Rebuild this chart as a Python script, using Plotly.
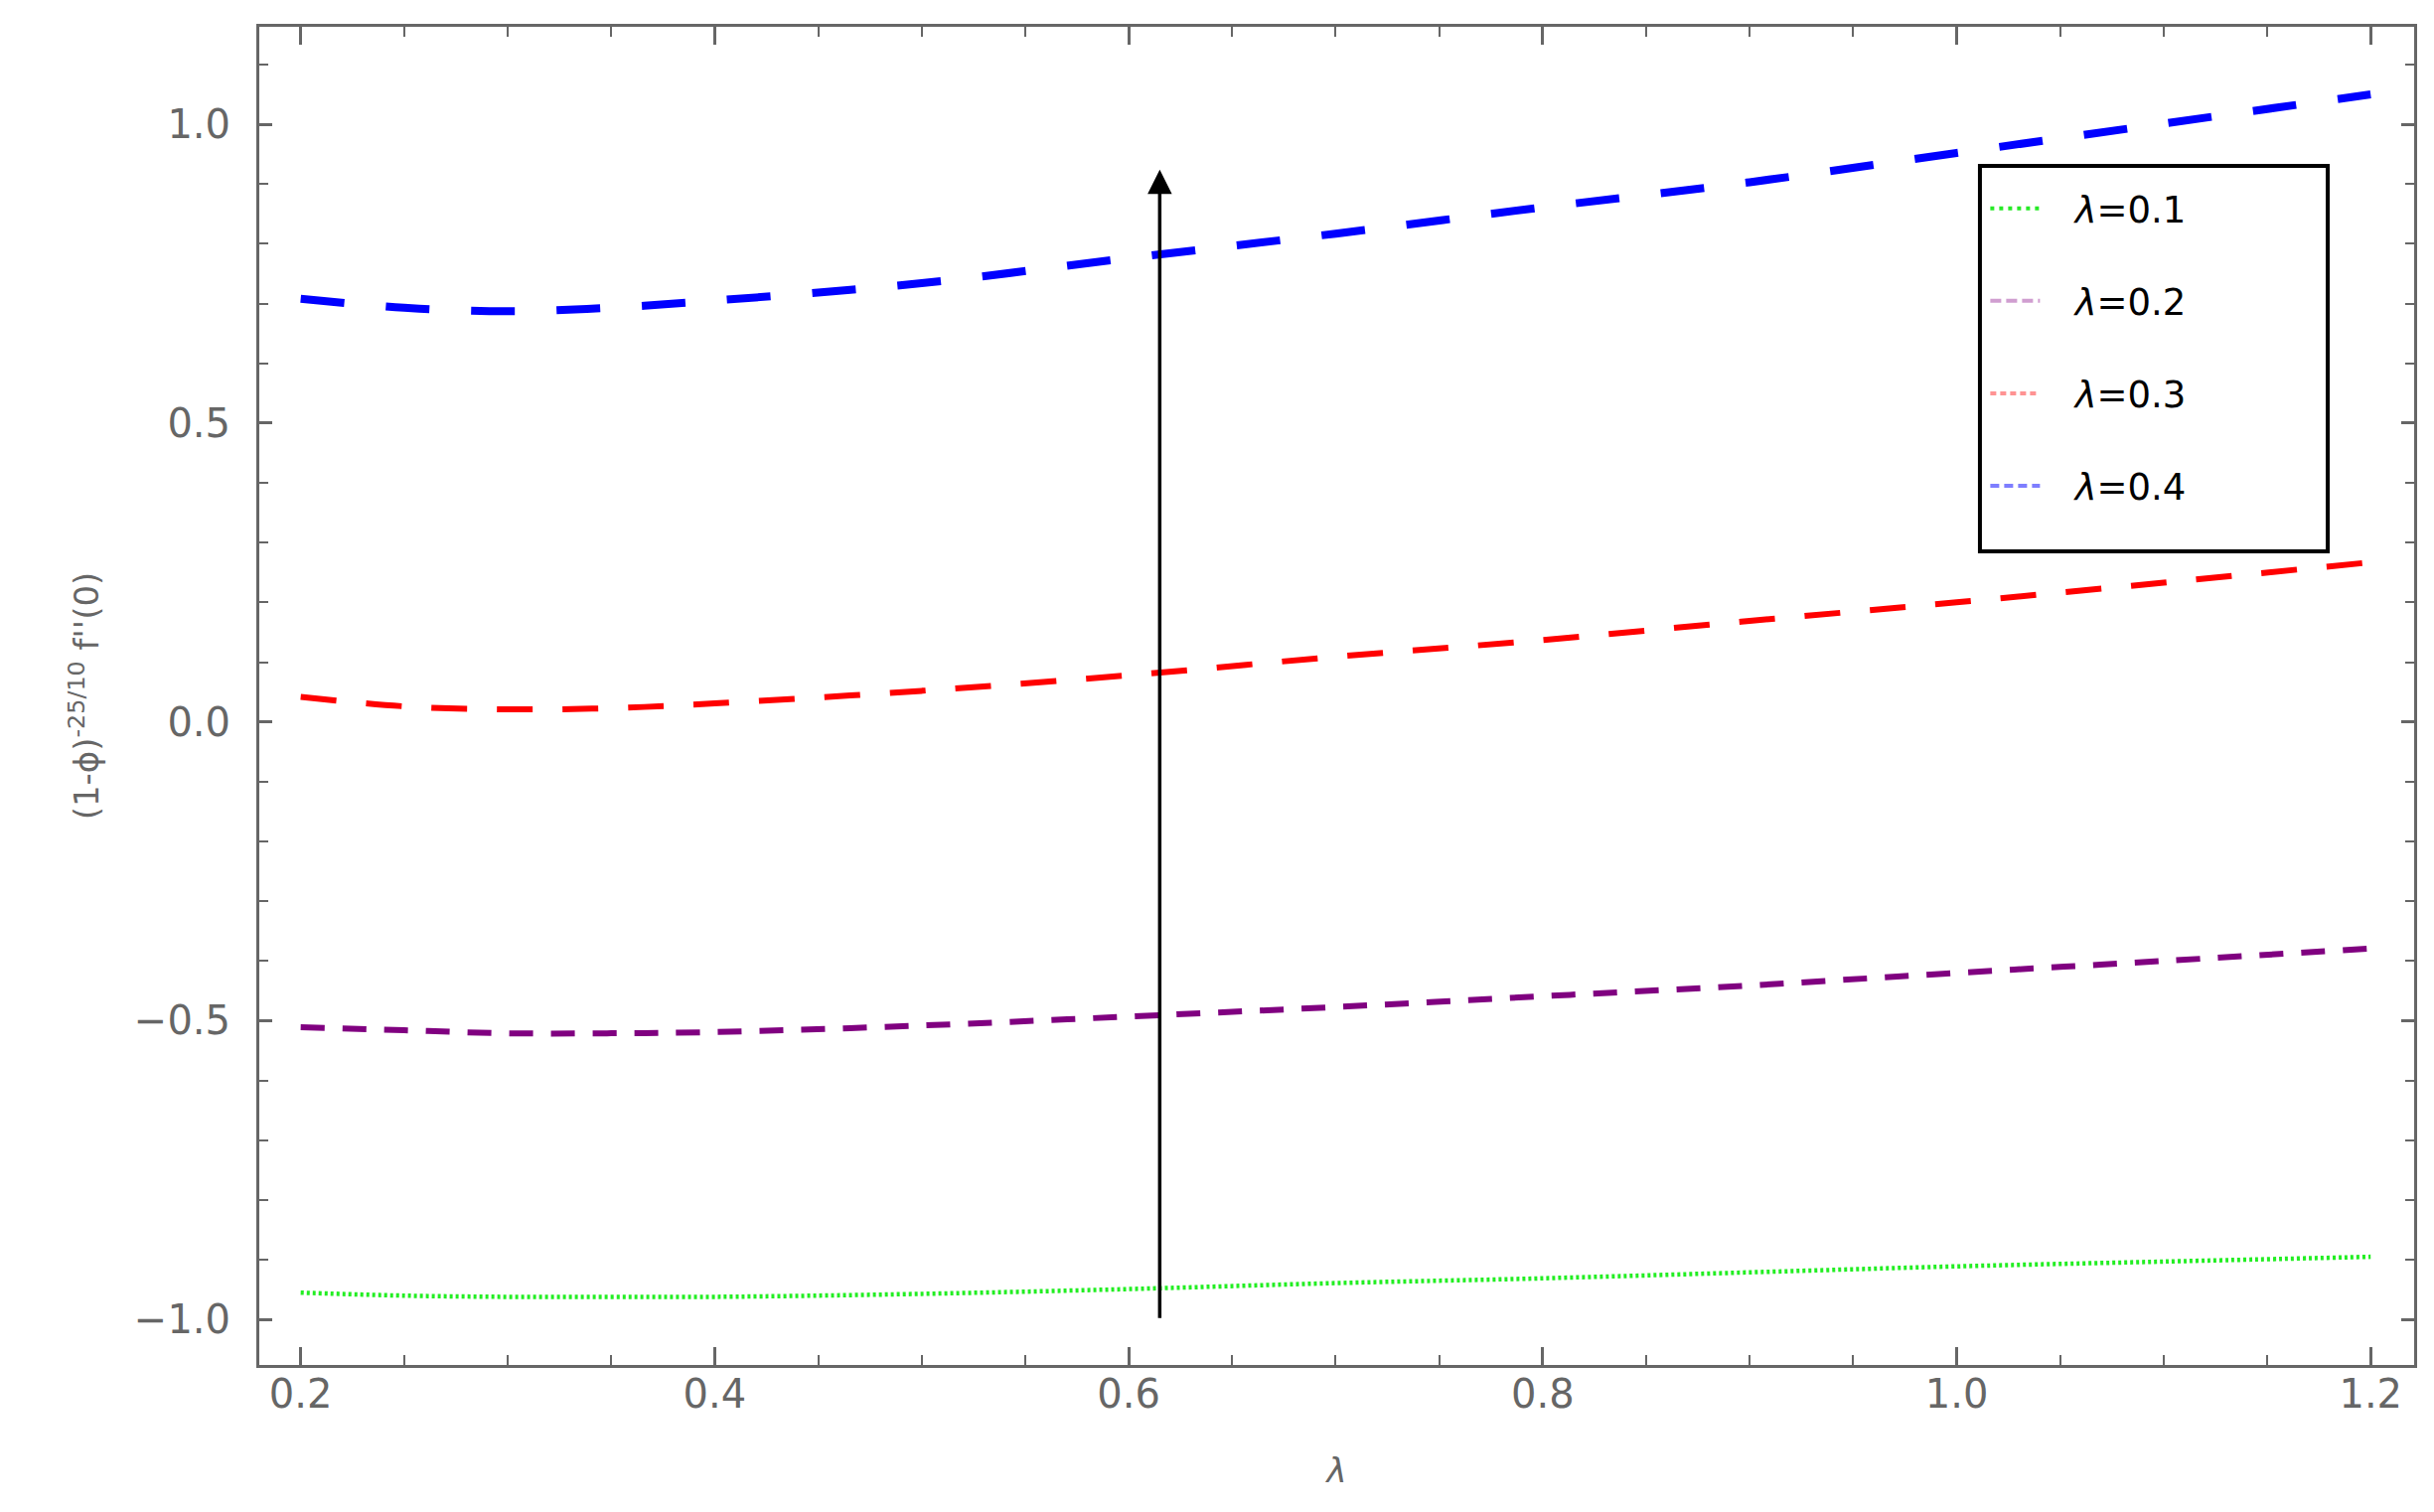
import plotly.graph_objects as go

# values
lam = [0.2, 0.25, 0.3, 0.35, 0.4, 0.5, 0.6, 0.7, 0.8, 0.9, 1.0, 1.1, 1.2]
skin_01 = [-0.955, -0.960, -0.962, -0.962, -0.962, -0.957, -0.949, -0.939, -0.931, -0.921, -0.911, -0.903, -0.895]
skin_02 = [-0.511, -0.516, -0.521, -0.521, -0.519, -0.508, -0.493, -0.477, -0.459, -0.441, -0.420, -0.400, -0.379]
skin_03 = [0.042, 0.026, 0.021, 0.023, 0.031, 0.052, 0.078, 0.109, 0.137, 0.169, 0.200, 0.233, 0.267]
skin_04 = [0.708, 0.693, 0.687, 0.693, 0.705, 0.734, 0.776, 0.817, 0.861, 0.903, 0.952, 1.001, 1.050]

names = ['<i>λ</i>=0.1', '<i>λ</i>=0.2', '<i>λ</i>=0.3', '<i>λ</i>=0.4']
series = [skin_01, skin_02, skin_03, skin_04]
colors = ['#22ee22', '#800080', '#ff0000', '#0000ff']
legend_colors = ['rgba(0,230,0,0.85)', 'rgba(150,40,150,0.45)', 'rgba(255,40,40,0.5)', 'rgba(40,40,255,0.6)']
widths = [4.5, 6, 6, 8]
dashes = ['3px,3px', '24px,18px', '36px,30px', '44px,42px']
legend_dashes = ['4px,5px', '11px,5px', '6px,4px', '9px,5px']

arrow_x = 0.615
arrow_y0, arrow_y1 = -1.0, 0.924

fig = go.Figure()
for i in range(4):
    fig.add_trace(go.Scatter(x=lam, y=series[i], mode='lines', showlegend=False,
                             line=dict(color=colors[i], width=widths[i], dash=dashes[i], shape='spline')))
# thin samples for the legend
for i in range(4):
    fig.add_trace(go.Scatter(x=[None], y=[None], name='\u2002\u00a0' + names[i], mode='lines', legendgroup=str(i),
                             line=dict(color=legend_colors[i], width=4, dash=legend_dashes[i])))

fig.add_annotation(x=arrow_x, y=arrow_y1, ax=arrow_x, ay=arrow_y0, xref='x', yref='y',
                   axref='x', ayref='y', showarrow=True, arrowhead=2, arrowsize=1.4,
                   arrowwidth=3.5, arrowcolor='black', text='')

# legend frame
fig.add_shape(type='rect', xref='paper', yref='paper', x0=0.7985, x1=0.9599, y0=0.608, y1=0.8961,
              line=dict(color='black', width=4), fillcolor='rgba(0,0,0,0)')

axis_font = dict(family='DejaVu Sans, sans-serif', size=40, color='#666666')
fig.update_layout(
    width=2450, height=1522,
    paper_bgcolor='white', plot_bgcolor='white',
    margin=dict(l=253, r=28, t=19, b=156),
    font=axis_font,
    legend=dict(x=0.801, y=0.887, xanchor='left', yanchor='top',
                bgcolor='rgba(0,0,0,0)', borderwidth=0,
                font=dict(family='DejaVu Sans, sans-serif', size=37, color='black'),
                tracegroupgap=42, itemwidth=50),
    showlegend=True,
)
fig.update_xaxes(range=[0.18, 1.221], dtick=0.2, tick0=0.2, tickformat='.1f', ticklabelstandoff=-8,
                 showgrid=False, zeroline=False, showline=True, linecolor='#666666', linewidth=3,
                 mirror='allticks', ticks='inside', ticklen=18, tickwidth=3, tickcolor='#666666',
                 minor=dict(dtick=0.05, ticks='inside', ticklen=10, tickwidth=2, tickcolor='#666666'),
                 title=dict(text='<i>λ</i>', font=dict(size=34, color='#666666'), standoff=44))
fig.update_yaxes(range=[-1.076, 1.163], dtick=0.5, tick0=0, tickformat='.1f', ticklabelstandoff=18,
                 showgrid=False, zeroline=False, showline=True, linecolor='#666666', linewidth=3,
                 mirror='allticks', ticks='inside', ticklen=13, tickwidth=3, tickcolor='#666666',
                 minor=dict(dtick=0.1, ticks='inside', ticklen=9, tickwidth=2, tickcolor='#666666'),
                 title=dict(text="(1-ϕ)<sup>-25/10</sup> f''(0)", font=dict(size=34, color='#666666'), standoff=25))

fig.write_html("out.html")
